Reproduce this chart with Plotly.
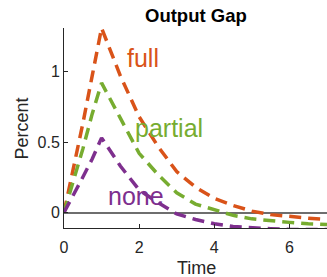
import plotly.graph_objects as go

# Data
t = [0, 0.25, 0.5, 0.75, 1.0, 1.5, 2.0, 2.5, 3.0, 3.5, 4.0, 4.5, 5.0, 5.5, 6.0, 6.5, 7.0]
full = [0, 0.31, 0.63, 0.97, 1.31, 0.97, 0.68, 0.47, 0.29, 0.18, 0.10, 0.05, 0.01, -0.015, -0.03, -0.04, -0.05]
partial = [0, 0.22, 0.45, 0.70, 0.92, 0.67, 0.42, 0.27, 0.14, 0.06, 0.02, -0.02, -0.045, -0.06, -0.07, -0.08, -0.085]
none = [0, 0.12, 0.25, 0.38, 0.53, 0.33, 0.16, 0.07, -0.01, -0.05, -0.08, -0.10, -0.11, -0.115, -0.12, -0.12, -0.12]

series_names = ["full", "partial", "none"]
series_values = [full, partial, none]
colors = ["#D95319", "#77AC30", "#7E2F8E"]
label_x = [1.63, 1.84, 1.12]
label_y = [1.10, 0.60, 0.12]

x_ticks = [0, 2, 4, 6]
y_ticks = [0, 0.5, 1]
y_ticklabels = ["0", "0.5", "1"]

FONT = "Liberation Sans, Arial, Helvetica, sans-serif"
AX = "#262626"
W, H = 327, 277
L, R, T, B = 64, 0, 28, 49
PW, PH = W - L - R, H - T - B


def px(x):
    return (x - L) / PW


def py(y):
    return (H - B - y) / PH


fig = go.Figure()
for name, vals, c in zip(series_names, series_values, colors):
    fig.add_trace(go.Scatter(
        x=t, y=vals, mode="lines", name=name,
        line=dict(color=c, width=3.5, dash="12px,7px"),
        showlegend=False, hoverinfo="skip",
    ))

for name, c, lx, ly in zip(series_names, colors, label_x, label_y):
    fig.add_annotation(x=lx, y=ly, text=name, showarrow=False,
                       xanchor="left", yanchor="middle",
                       font=dict(family=FONT, size=25, color=c))

# axis titles and chart title as annotations
fig.add_annotation(x=px(196), y=py(267.5), xref="paper", yref="paper",
                   text="Time", showarrow=False, xanchor="center", yanchor="middle",
                   font=dict(family=FONT, size=18, color=AX))
fig.add_annotation(x=px(21), y=py(128.5), xref="paper", yref="paper",
                   text="Percent", showarrow=False, textangle=-90,
                   xanchor="center", yanchor="middle",
                   font=dict(family=FONT, size=18, color=AX))
fig.add_annotation(x=px(196), y=py(15), xref="paper", yref="paper",
                   text="<b>Output Gap</b>", showarrow=False,
                   xanchor="center", yanchor="middle",
                   font=dict(family=FONT, size=18.5, color="#000000"))

fig.update_layout(
    width=W, height=H,
    margin=dict(l=L, r=R, t=T, b=B, autoexpand=False),
    paper_bgcolor="white", plot_bgcolor="white",
    font=dict(family=FONT, color=AX),
    xaxis=dict(range=[0, 7], tickvals=x_ticks, ticks="inside", ticklen=4,
               tickcolor=AX, showline=True, linecolor=AX, linewidth=1,
               showgrid=False, zeroline=False, automargin=False,
               ticklabelstandoff=5,
               tickfont=dict(size=16, color=AX)),
    yaxis=dict(range=[-0.11, 1.31], tickvals=y_ticks, ticktext=y_ticklabels,
               ticks="inside", ticklen=4, tickcolor=AX,
               showline=True, linecolor=AX, linewidth=1,
               showgrid=False, zeroline=True, zerolinecolor="#6e6e6e",
               zerolinewidth=2, automargin=False,
               tickfont=dict(size=16, color=AX)),
)

fig.write_html("out.html", config={"displayModeBar": False},
               post_script="document.body.style.margin='0';document.body.style.overflow='hidden';")
